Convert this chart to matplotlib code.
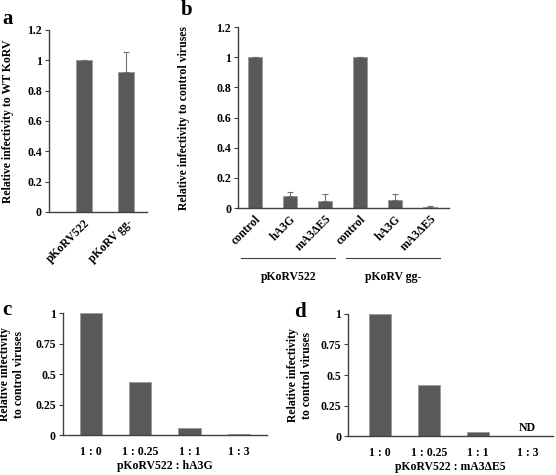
import numpy as np
import matplotlib
matplotlib.use("Agg")
import matplotlib.pyplot as plt
import matplotlib.transforms as mtransforms

plt.rcParams['font.family'] = ['Liberation Serif', 'DejaVu Serif']
plt.rcParams['font.weight'] = 'bold'

# Data
a_labels = ['pKoRV522', 'pKoRV gg-']
a_values = [1.0, 0.925]
a_errors = [0.0, 0.13]

b_labels = ['control', 'hA3G', 'mA3\u0394E5', 'control', 'hA3G', 'mA3\u0394E5']
b_values = [1.0, 0.08, 0.045, 1.0, 0.055, 0.005]
b_errors = [0.0, 0.027, 0.05, 0.0, 0.04, 0.01]
b_groups = ['pKoRV522', 'pKoRV gg-']

ratio_labels = ['1 : 0', '1 : 0.25', '1 : 1', '1 : 3']
c_values = [1.0, 0.435, 0.055, 0.005]
d_values = [1.0, 0.42, 0.035, 0.0]
d_nd = [False, False, False, True]

bar_color = '#595959'
edge_color = '#9a9a9a'
axis_color = '#404040'
tick_fs = 8.5

fig = plt.figure(figsize=(5.56, 4.75), dpi=100)


def style_axes(ax):
    ax.spines['top'].set_visible(False)
    ax.spines['right'].set_visible(False)
    for s in ['left', 'bottom']:
        ax.spines[s].set_color(axis_color)
        ax.spines[s].set_linewidth(1.0)
    ax.tick_params(axis='y', length=3, width=0.8, color=axis_color, labelsize=tick_fs, pad=2)
    ax.tick_params(axis='x', length=0, labelsize=tick_fs)


def draw_bars(ax, values, errors=None, width=0.4):
    x = np.arange(len(values))
    ax.bar(x, values, width=width, color=bar_color, edgecolor=edge_color, linewidth=0.6, zorder=2)
    if errors is not None:
        ax.errorbar(x, values, yerr=[np.zeros(len(errors)), errors], fmt='none',
                    ecolor='#707070', elinewidth=0.8, capsize=2.5, capthick=0.8, zorder=3)
    return x


# Panel a
ax_a = fig.add_axes([0.088, 0.554, 0.176, 0.383])
xa = draw_bars(ax_a, a_values, a_errors, width=0.38)
ax_a.set_xlim(-0.84, 1.5)
ax_a.set_ylim(0, 1.2)
ax_a.set_yticks([0, 0.2, 0.4, 0.6, 0.8, 1.0, 1.2])
ax_a.set_yticklabels(['0', '0.2', '0.4', '0.6', '0.8', '1', '1.2'])
ax_a.set_xticks(xa)
ax_a.set_xticklabels(a_labels, rotation=45, ha='right', rotation_mode='anchor')
ax_a.set_ylabel('Relative infectivity to WT KoRV', fontsize=tick_fs, fontweight='bold')
ax_a.yaxis.set_label_coords(-0.36, 0.5)
style_axes(ax_a)

# Panel b
ax_b = fig.add_axes([0.428, 0.562, 0.3795, 0.381])
xb = draw_bars(ax_b, b_values, b_errors, width=0.4)
ax_b.set_xlim(-0.49, 5.55)
ax_b.set_ylim(0, 1.2)
ax_b.set_yticks([0, 0.2, 0.4, 0.6, 0.8, 1.0, 1.2])
ax_b.set_yticklabels(['0', '0.2', '0.4', '0.6', '0.8', '1', '1.2'])
ax_b.set_xticks(xb)
ax_b.set_xticklabels(b_labels, rotation=45, ha='right', rotation_mode='anchor')
ax_b.set_ylabel('Relative infectivity to control viruses', fontsize=tick_fs, fontweight='bold')
ax_b.yaxis.set_label_coords(-0.225, 0.5)
style_axes(ax_b)
trans = mtransforms.blended_transform_factory(ax_b.transData, ax_b.transAxes)
for gi, gname in enumerate(b_groups):
    x0 = xb[gi * 3] - 0.4
    x1 = xb[gi * 3 + 2] + 0.3
    ax_b.plot([x0, x1], [-0.276, -0.276], color=axis_color, lw=0.8,
              transform=trans, clip_on=False)
    ax_b.text((x0 + x1) / 2, -0.38, gname, transform=trans, ha='center', va='center',
              fontsize=tick_fs, fontweight='bold')

# Panel c
ax_c = fig.add_axes([0.113, 0.084, 0.367, 0.257])
xc = draw_bars(ax_c, c_values, width=0.45)
ax_c.set_xlim(-0.57, 3.57)
ax_c.set_ylim(0, 1.0)
ax_c.set_yticks([0, 0.25, 0.5, 0.75, 1.0])
ax_c.set_yticklabels(['0', '0.25', '0.5', '0.75', '1'])
ax_c.set_xticks(xc)
ax_c.set_xticklabels(ratio_labels)
ax_c.set_xlabel('pKoRV522 : hA3G', fontsize=tick_fs, fontweight='bold', labelpad=1)
ax_c.set_ylabel('Relative infectivity\nto control viruses', fontsize=tick_fs, fontweight='bold',
                linespacing=1.25)
ax_c.yaxis.set_label_coords(-0.185, 0.5)
style_axes(ax_c)
ax_c.tick_params(axis='x', pad=8)

# Panel d
ax_d = fig.add_axes([0.626, 0.082, 0.369, 0.257])
xd = draw_bars(ax_d, d_values, width=0.45)
for xi, nd in zip(xd, d_nd):
    if nd:
        ax_d.text(xi, 0.02, 'ND', ha='center', va='bottom', fontsize=tick_fs, fontweight='bold')
ax_d.set_xlim(-0.64, 3.52)
ax_d.set_ylim(0, 1.0)
ax_d.set_yticks([0, 0.25, 0.5, 0.75, 1.0])
ax_d.set_yticklabels(['0', '0.25', '0.5', '0.75', '1'])
ax_d.set_xticks(xd)
ax_d.set_xticklabels(ratio_labels)
ax_d.set_xlabel('pKoRV522 : mA3\u0394E5', fontsize=tick_fs, fontweight='bold', labelpad=1)
ax_d.set_ylabel('Relative infectivity\nto control viruses', fontsize=tick_fs, fontweight='bold',
                linespacing=1.25)
ax_d.yaxis.set_label_coords(-0.17, 0.5)
style_axes(ax_d)
ax_d.tick_params(axis='x', pad=8)

# Panel letters
for letter, (px, py) in zip('abcd', [(8, 19), (187, 10), (7, 310), (300, 312)]):
    fig.text(px / 556, 1 - py / 475, letter, fontsize=15, fontweight='bold', va='center', ha='center')

fig.savefig('out.png', dpi=100)
